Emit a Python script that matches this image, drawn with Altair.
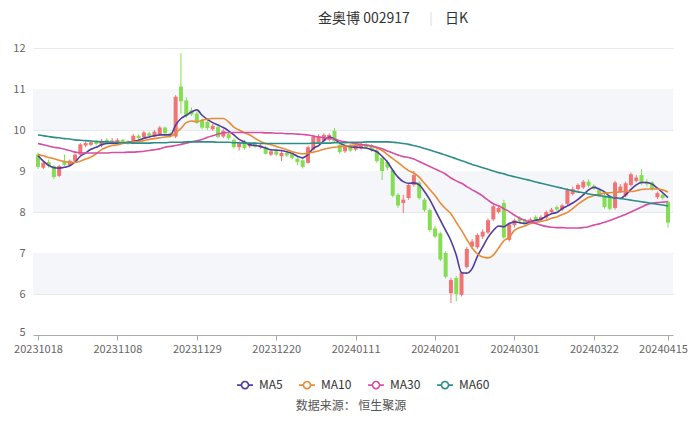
import altair as alt
import pandas as pd

FONT = "Noto Sans CJK SC"

# ---------------- data ----------------
dates = [
    "20231018", "20231019", "20231020", "20231023", "20231024", "20231025", "20231026", "20231027", "20231030", "20231031",
    "20231101", "20231102", "20231103", "20231106", "20231107", "20231108", "20231109", "20231110", "20231113", "20231114",
    "20231115", "20231116", "20231117", "20231120", "20231121", "20231122", "20231123", "20231124", "20231127", "20231128",
    "20231129", "20231130", "20231201", "20231204", "20231205", "20231206", "20231207", "20231208", "20231211", "20231212",
    "20231213", "20231214", "20231215", "20231218", "20231219", "20231220", "20231221", "20231222", "20231225", "20231226",
    "20231227", "20231228", "20231229", "20240102", "20240103", "20240104", "20240105", "20240108", "20240109", "20240110",
    "20240111", "20240112", "20240115", "20240116", "20240117", "20240118", "20240119", "20240122", "20240123", "20240124",
    "20240125", "20240126", "20240129", "20240130", "20240131", "20240201", "20240202", "20240205", "20240206", "20240207",
    "20240208", "20240219", "20240220", "20240221", "20240222", "20240223", "20240226", "20240227", "20240228", "20240229",
    "20240301", "20240304", "20240305", "20240306", "20240307", "20240308", "20240311", "20240312", "20240313", "20240314",
    "20240315", "20240318", "20240319", "20240320", "20240321", "20240322", "20240325", "20240326", "20240327", "20240328",
    "20240329", "20240401", "20240402", "20240403", "20240408", "20240409", "20240410", "20240411", "20240412", "20240415",
]
tick_dates = ["20231018", "20231108", "20231129", "20231220", "20240111",
              "20240201", "20240301", "20240322", "20240415"]
y_ticks = [5, 6, 7, 8, 9, 10, 11, 12]

opens = [
    9.40, 9.08, 9.22, 9.12, 8.88, 9.25, 9.15, 9.25, 9.40, 9.62,
    9.64, 9.72, 9.62, 9.76, 9.68, 9.70, 9.76, 9.72, 9.70, 9.86,
    9.82, 9.92, 9.84, 9.90, 10.06, 9.92, 9.84, 11.06, 10.72, 10.48,
    10.40, 10.24, 10.20, 10.02, 10.07, 9.84, 9.90, 9.76, 9.58, 9.72,
    9.60, 9.66, 9.58, 9.58, 9.40, 9.48, 9.36, 9.44, 9.42, 9.30,
    9.26, 9.20, 9.52, 9.70, 9.74, 9.76, 9.98, 9.64, 9.48, 9.62,
    9.52, 9.56, 9.64, 9.62, 9.50, 9.32, 9.22, 9.02, 8.42, 8.22,
    8.34, 8.66, 8.72, 8.30, 8.05, 7.60, 7.48, 7.00, 6.02, 6.39,
    5.98, 6.66, 7.16, 7.14, 7.40, 7.50, 7.82, 8.00, 8.22, 7.32,
    7.68, 7.86, 7.80, 7.74, 7.88, 7.82, 7.86, 8.00, 8.12, 8.06,
    8.20, 8.44, 8.56, 8.60, 8.74, 8.64, 8.54, 8.40, 8.38, 8.10,
    8.50, 8.40, 8.66, 8.76, 8.90, 8.74, 8.72, 8.36, 8.42, 8.24,
]
closes = [
    9.10, 9.20, 9.12, 8.85, 9.12, 9.15, 9.25, 9.40, 9.65, 9.68,
    9.70, 9.66, 9.74, 9.70, 9.74, 9.76, 9.70, 9.68, 9.86, 9.80,
    9.94, 9.86, 9.96, 10.06, 9.92, 9.86, 10.81, 10.70, 10.34, 10.38,
    10.18, 10.06, 10.05, 10.10, 9.83, 9.98, 9.80, 9.58, 9.70, 9.56,
    9.66, 9.60, 9.62, 9.42, 9.48, 9.40, 9.44, 9.38, 9.32, 9.22,
    9.10, 9.58, 9.84, 9.85, 9.88, 9.88, 9.72, 9.46, 9.60, 9.50,
    9.62, 9.66, 9.58, 9.50, 9.24, 9.00, 9.08, 8.40, 8.16, 8.30,
    8.66, 8.90, 8.34, 8.05, 7.56, 7.40, 6.84, 6.42, 6.34, 6.00,
    6.52, 7.10, 7.28, 7.44, 7.52, 7.80, 8.14, 8.10, 7.38, 7.70,
    7.80, 7.78, 7.72, 7.82, 7.80, 7.88, 8.00, 8.06, 8.06, 8.16,
    8.54, 8.56, 8.66, 8.74, 8.64, 8.58, 8.42, 8.12, 8.08, 8.72,
    8.62, 8.70, 8.92, 8.84, 8.70, 8.68, 8.56, 8.46, 8.34, 7.74,
]
highs = [
    9.45, 9.25, 9.28, 9.15, 9.15, 9.40, 9.28, 9.43, 9.68, 9.72,
    9.74, 9.76, 9.78, 9.80, 9.80, 9.80, 9.78, 9.75, 9.90, 9.90,
    9.98, 9.96, 10.00, 10.10, 10.08, 9.95, 10.85, 11.87, 10.80, 10.55,
    10.45, 10.28, 10.25, 10.15, 10.10, 10.02, 9.94, 9.80, 9.72, 9.76,
    9.70, 9.70, 9.66, 9.62, 9.52, 9.52, 9.50, 9.48, 9.46, 9.34,
    9.30, 9.62, 9.88, 9.90, 9.92, 9.92, 10.05, 9.68, 9.64, 9.66,
    9.66, 9.70, 9.68, 9.66, 9.54, 9.36, 9.26, 9.06, 8.46, 8.42,
    8.70, 9.00, 8.76, 8.34, 8.08, 7.66, 7.52, 7.04, 6.40, 6.44,
    6.56, 7.15, 7.34, 7.48, 7.58, 7.84, 8.18, 8.16, 8.30, 7.74,
    7.84, 7.90, 7.84, 7.86, 7.92, 7.92, 8.04, 8.10, 8.16, 8.20,
    8.58, 8.62, 8.70, 8.78, 8.80, 8.68, 8.58, 8.44, 8.42, 8.76,
    8.68, 8.74, 8.96, 8.90, 9.05, 8.80, 8.76, 8.50, 8.46, 8.28,
]
lows = [
    9.05, 9.05, 9.08, 8.80, 8.85, 9.12, 9.12, 9.22, 9.38, 9.58,
    9.60, 9.62, 9.58, 9.66, 9.65, 9.68, 9.66, 9.64, 9.68, 9.76,
    9.80, 9.82, 9.82, 9.88, 9.88, 9.82, 9.80, 10.40, 10.30, 10.34,
    10.15, 10.02, 10.00, 9.98, 9.80, 9.80, 9.76, 9.55, 9.50, 9.52,
    9.56, 9.56, 9.54, 9.40, 9.36, 9.36, 9.24, 9.34, 9.28, 9.14,
    9.06, 9.18, 9.50, 9.66, 9.70, 9.72, 9.70, 9.42, 9.44, 9.46,
    9.48, 9.52, 9.54, 9.46, 9.20, 8.78, 9.02, 8.36, 8.10, 7.98,
    8.30, 8.62, 8.30, 8.00, 7.52, 7.36, 6.80, 6.38, 5.78, 5.82,
    5.94, 6.62, 7.10, 7.10, 7.34, 7.46, 7.78, 7.96, 7.34, 7.28,
    7.62, 7.72, 7.68, 7.70, 7.76, 7.78, 7.82, 7.96, 8.02, 8.02,
    8.16, 8.40, 8.52, 8.56, 8.60, 8.54, 8.38, 8.08, 8.04, 8.06,
    8.46, 8.36, 8.62, 8.72, 8.66, 8.62, 8.52, 8.32, 8.30, 7.62,
]

ma5 = [
    9.38, 9.24, 9.14, 9.08, 9.07, 9.09, 9.13, 9.22, 9.36, 9.44,
    9.53, 9.58, 9.64, 9.67, 9.68, 9.68, 9.68, 9.70, 9.72, 9.75,
    9.80, 9.83, 9.86, 9.88, 9.88, 9.88, 10.12, 10.28, 10.36, 10.44,
    10.49, 10.36, 10.26, 10.18, 10.12, 10.06, 9.98, 9.88, 9.77, 9.71,
    9.64, 9.62, 9.60, 9.56, 9.52, 9.51, 9.50, 9.47, 9.43, 9.36,
    9.32, 9.40, 9.55, 9.62, 9.74, 9.83, 9.78, 9.68, 9.62, 9.59,
    9.58, 9.57, 9.56, 9.52, 9.47, 9.36, 9.22, 9.02, 8.85, 8.74,
    8.70, 8.71, 8.66, 8.50, 8.30, 8.05, 7.80, 7.55, 7.30, 6.95,
    6.52, 6.51, 6.62, 6.92, 7.15, 7.38, 7.55, 7.66, 7.64, 7.72,
    7.76, 7.74, 7.72, 7.76, 7.80, 7.82, 7.90, 7.96, 7.99, 8.08,
    8.15, 8.22, 8.31, 8.42, 8.54, 8.60, 8.56, 8.49, 8.38, 8.34,
    8.33, 8.42, 8.55, 8.66, 8.72, 8.72, 8.68, 8.58, 8.47, 8.35,
]
ma10 = [
    9.40, 9.37, 9.33, 9.30, 9.26, 9.23, 9.21, 9.21, 9.24, 9.29,
    9.34, 9.42, 9.52, 9.58, 9.62, 9.64, 9.67, 9.69, 9.71, 9.72,
    9.74, 9.77, 9.79, 9.81, 9.83, 9.84, 9.93, 10.04, 10.18, 10.22,
    10.20, 10.24, 10.27, 10.28, 10.28, 10.28, 10.20, 10.07, 10.00, 9.93,
    9.88, 9.80, 9.72, 9.67, 9.64, 9.60, 9.56, 9.52, 9.47, 9.44,
    9.42, 9.43, 9.46, 9.49, 9.53, 9.56, 9.58, 9.59, 9.61, 9.62,
    9.63, 9.63, 9.63, 9.61, 9.56, 9.50, 9.40, 9.30, 9.21, 9.10,
    9.01, 8.95, 8.85, 8.70, 8.55, 8.40, 8.22, 8.08, 7.96, 7.75,
    7.55, 7.33, 7.12, 6.98, 6.90, 6.88, 6.95, 7.12, 7.30, 7.38,
    7.55, 7.62, 7.66, 7.72, 7.75, 7.77, 7.80, 7.85, 7.88, 7.94,
    7.99, 8.08, 8.19, 8.28, 8.36, 8.40, 8.43, 8.46, 8.47, 8.48,
    8.49, 8.50, 8.50, 8.52, 8.55, 8.56, 8.56, 8.56, 8.54, 8.49,
]
ma30 = [
    9.67, 9.64, 9.61, 9.58, 9.56, 9.53, 9.50, 9.46, 9.45, 9.44,
    9.44, 9.44, 9.44, 9.44, 9.45, 9.45, 9.45, 9.46, 9.46, 9.47,
    9.48, 9.50, 9.52, 9.54, 9.58, 9.60, 9.62, 9.65, 9.68, 9.71,
    9.74, 9.77, 9.82, 9.86, 9.90, 9.93, 9.94, 9.94, 9.94, 9.94,
    9.94, 9.94, 9.94, 9.93, 9.93, 9.92, 9.92, 9.91, 9.91, 9.90,
    9.89, 9.88, 9.85, 9.83, 9.81, 9.80, 9.78, 9.74, 9.71, 9.69,
    9.67, 9.65, 9.63, 9.61, 9.58, 9.54, 9.49, 9.44, 9.39, 9.35,
    9.33, 9.29, 9.23, 9.17, 9.11, 9.05, 8.99, 8.92, 8.83, 8.76,
    8.70, 8.62, 8.54, 8.47, 8.39, 8.29, 8.20, 8.15, 8.08, 8.01,
    7.92, 7.85, 7.80, 7.76, 7.72, 7.68, 7.65, 7.63, 7.62, 7.62,
    7.61, 7.61, 7.61, 7.62, 7.64, 7.68, 7.71, 7.75, 7.79, 7.84,
    7.89, 7.94, 8.00, 8.06, 8.12, 8.18, 8.21, 8.23, 8.24, 8.25,
]
ma60 = [
    9.88, 9.86, 9.84, 9.82, 9.81, 9.79, 9.78, 9.76, 9.75, 9.74,
    9.73, 9.72, 9.71, 9.71, 9.70, 9.70, 9.69, 9.69, 9.68, 9.68,
    9.68, 9.68, 9.69, 9.69, 9.69, 9.70, 9.70, 9.70, 9.71, 9.71,
    9.71, 9.71, 9.71, 9.71, 9.70, 9.70, 9.70, 9.69, 9.69, 9.68,
    9.68, 9.68, 9.67, 9.67, 9.67, 9.67, 9.67, 9.67, 9.67, 9.67,
    9.67, 9.67, 9.68, 9.68, 9.68, 9.68, 9.69, 9.69, 9.69, 9.70,
    9.70, 9.70, 9.71, 9.71, 9.71, 9.71, 9.71, 9.70, 9.69, 9.67,
    9.65, 9.62, 9.59, 9.55, 9.51, 9.47, 9.43, 9.39, 9.34, 9.30,
    9.25, 9.21, 9.16, 9.12, 9.08, 9.04, 9.00, 8.96, 8.93, 8.89,
    8.86, 8.83, 8.80, 8.77, 8.73, 8.70, 8.67, 8.64, 8.61, 8.58,
    8.55, 8.52, 8.49, 8.47, 8.44, 8.42, 8.40, 8.38, 8.36, 8.34,
    8.33, 8.31, 8.29, 8.27, 8.25, 8.23, 8.21, 8.19, 8.17, 8.15,
]

ma_names = ["MA5", "MA10", "MA30", "MA60"]
ma_series = [ma5, ma10, ma30, ma60]

# ---------------- styling constants ----------------
RED = "#f27373"
GREEN = "#84dd52"
MA_COLORS = ["#4f3c9e", "#e98b36", "#d64fa5", "#2e8d89"]
BAND_LO = [6, 8, 10]
BAND_HI = [7, 9, 11]

n = len(dates)
candles = pd.DataFrame({
    "idx": list(range(n)), "date": dates,
    "open": opens, "close": closes, "high": highs, "low": lows,
})
rows = []
for name, arr in zip(ma_names, ma_series):
    for i, v in enumerate(arr):
        rows.append({"idx": i, "date": dates[i], "series": name, "value": v})
ma_df = pd.DataFrame(rows)
bands = pd.DataFrame({"lo": BAND_LO, "hi": BAND_HI})

tick_idx = [dates.index(d) for d in tick_dates]
last_idx = tick_idx[-1]
label_expr = ("[" + ",".join("'%s'" % d for d in tick_dates) + "][indexof(["
              + ",".join(str(i) for i in tick_idx) + "], datum.value)]")

x_scale = alt.Scale(domain=[0, n - 1], nice=False, zero=False)
x_axis = alt.Axis(values=tick_idx, labelExpr=label_expr, grid=False,
                  domainColor="#aaaaaa", tickColor="#aaaaaa", tickSize=5,
                  labelColor="#666666", labelFontSize=11, labelFont=FONT,
                  labelPadding=3, labelFlush=False, labelOverlap=False,
                  labelOffset=alt.ConditionalAxisNumber(
                      condition={"test": "datum.value == %d" % last_idx, "value": -5},
                      value=0))
y_scale = alt.Scale(domain=[5, 12], nice=False, zero=False)
y_axis = alt.Axis(values=y_ticks, grid=True, gridColor="#e4e8ef", domain=False,
                  ticks=False, labelPadding=8, labelColor="#666666",
                  labelFontSize=11, labelFont=FONT,
                  labelOffset=alt.ConditionalAxisNumber(
                      condition={"test": "datum.value == %d" % y_ticks[0], "value": -3},
                      value=0))


def X(field):
    return alt.X(field, scale=x_scale, axis=x_axis, title=None)


def Y(field):
    return alt.Y(field, scale=y_scale, axis=y_axis, title=None)


band_layer = alt.Chart(bands).mark_rect(color="#f5f6fa").encode(
    x=alt.value(0), x2=alt.value(640), y=Y("lo:Q"), y2="hi:Q"
)

updown = alt.condition("datum.close >= datum.open", alt.value(RED), alt.value(GREEN))

wicks = alt.Chart(candles).mark_rule(strokeWidth=1).encode(
    x=X("idx:Q"), y=Y("low:Q"), y2="high:Q", color=updown,
    tooltip=["date", "open", "close", "high", "low"],
)
bodies = alt.Chart(candles).mark_bar(size=4).encode(
    x=X("idx:Q"), y=Y("open:Q"), y2="close:Q", color=updown,
    tooltip=["date", "open", "close", "high", "low"],
)

legend_symbol = ("M-1,0L-0.45,0M0.45,0L1,0M-0.45,0A0.45,0.45,0,1,0,0.45,0"
                 "A0.45,0.45,0,1,0,-0.45,0")
lines = alt.Chart(ma_df).mark_line(strokeWidth=1.6, interpolate="monotone").encode(
    x=X("idx:Q"), y=Y("value:Q"),
    color=alt.Color(
        "series:N", title=None,
        scale=alt.Scale(domain=ma_names, range=MA_COLORS),
        legend=alt.Legend(orient="none", legendX=203, legendY=328,
                          direction="horizontal", symbolType=legend_symbol,
                          symbolSize=250, symbolStrokeWidth=1.6,
                          labelFontSize=12, labelColor="#333333", labelFont=FONT,
                          columnPadding=12, labelOffset=5),
    ),
    tooltip=["date", "series", "value"],
)

title_main = alt.Chart(pd.DataFrame({"t": ["金奥博 002917"]})).mark_text(
    align="left", baseline="middle", fontSize=14, font=FONT, color="#333333"
).encode(text="t:N", x=alt.value(285), y=alt.value(-29))
title_sep = alt.Chart(pd.DataFrame({"t": ["|"]})).mark_rule(
    color="#dddddd", strokeWidth=1
).encode(x=alt.value(398), y=alt.value(-36), y2=alt.value(-22))
title_k = alt.Chart(pd.DataFrame({"t": ["日K"]})).mark_text(
    align="left", baseline="middle", fontSize=14, font=FONT, color="#333333"
).encode(text="t:N", x=alt.value(412), y=alt.value(-29))
source = alt.Chart(pd.DataFrame({"t": ["数据来源：  恒生聚源"]})).mark_text(
    align="center", baseline="middle", fontSize=12, font=FONT, color="#555555"
).encode(text="t:N", x=alt.value(318), y=alt.value(358))

chart = alt.layer(
    band_layer, wicks, bodies, lines, title_main, title_sep, title_k, source
).properties(
    width=640, height=287,
    autosize=alt.AutoSizeParams(type="none"),
    padding={"left": 25, "top": 40, "right": 19, "bottom": 80},
    background="white",
).configure_view(strokeWidth=0)

chart.save("out.html", embed_options={"renderer": "svg", "actions": False})
